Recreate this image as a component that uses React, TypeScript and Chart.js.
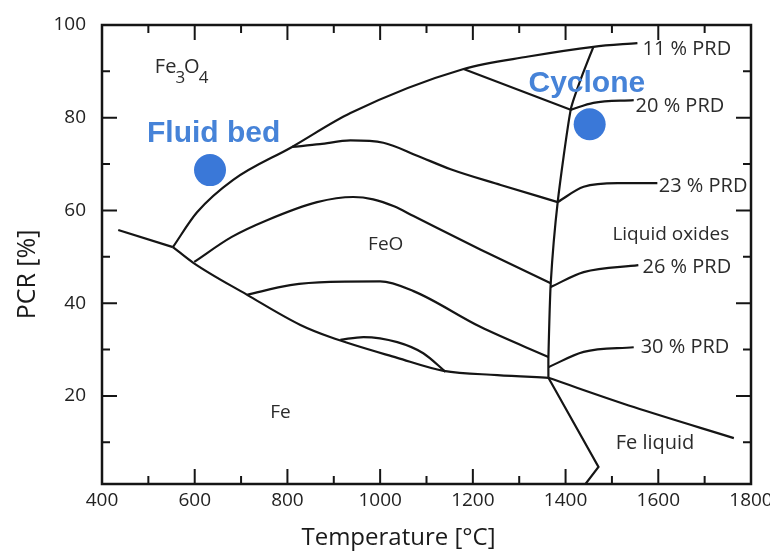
import React, { useEffect, useRef } from 'react';
import { Chart, registerables } from 'chart.js';

Chart.register(...registerables);

// ---- axes ----
const xTickValues = [400, 600, 800, 1000, 1200, 1400, 1600, 1800];
const yTickValues = [20, 40, 60, 80, 100];
const xTitle = 'Temperature [°C]';
const yTitle = 'PCR [%]';

// ---- phase boundary curves (Temperature °C, PCR %) ----
const leftExtX = [435, 553];
const leftExtY = [55.8, 52.1];

const lowerBoundaryX = [553, 597, 713, 828, 892, 1037, 1137, 1253, 1363];
const lowerBoundaryY = [52.1, 48.7, 41.8, 35.3, 32.7, 28.2, 25.4, 24.5, 23.9];

const upperBoundaryX = [553, 605, 683, 810, 936, 1180, 1320, 1460, 1555];
const upperBoundaryY = [52.1, 59.6, 66.6, 73.7, 81.0, 90.5, 93.2, 95.3, 96.1];

const lineAX = [810, 870, 936, 1007, 1080, 1152, 1260, 1383];
const lineAY = [73.7, 74.3, 75.1, 74.6, 71.8, 68.9, 65.5, 61.8];

const lineBX = [599, 680, 756, 864, 942, 985, 1030, 1072, 1216, 1368];
const lineBY = [48.9, 54.3, 57.9, 61.8, 62.9, 62.4, 60.9, 58.8, 51.6, 44.3];

const lineCX = [713, 806, 892, 1000, 1072, 1216, 1363];
const lineCY = [41.8, 43.9, 44.6, 44.7, 42.6, 34.9, 28.4];

const lensX = [914, 964, 1037, 1093, 1141];
const lensY = [32.1, 32.7, 31.6, 29.2, 25.2];

const liquidusX = [1460, 1432, 1411, 1383, 1368, 1363, 1363];
const liquidusY = [95.3, 88.1, 81.7, 61.8, 44.3, 28.4, 23.9];

const lineEX = [1180, 1411];
const lineEY = [90.5, 81.7];

const prd20X = [1411, 1460, 1547];
const prd20Y = [81.7, 83.2, 83.8];

const prd23X = [1383, 1439, 1512, 1598];
const prd23Y = [61.8, 65.1, 65.9, 65.9];

const prd26X = [1368, 1439, 1557];
const prd26Y = [43.5, 46.7, 48.2];

const prd30X = [1363, 1439, 1547];
const prd30Y = [26.2, 29.5, 30.5];

const feLiquidX = [1363, 1547, 1763];
const feLiquidY = [23.9, 17.6, 10.9];

const lowerBranchX = [1363, 1471, 1443];
const lowerBranchY = [23.9, 4.7, 1];

// ---- operating points ----
const processNames = ['Fluid bed', 'Cyclone'];
const processX = [633, 1452];
const processY = [68.7, 78.6];
const processLabelX = [497, 1320];
const processLabelY = [74.8, 85.5];

// ---- region labels ----
const regionTexts = ['FeO', 'Fe', 'Liquid oxides', 'Fe liquid'];
const regionX = [974, 763, 1501, 1508];
const regionY = [51.5, 15.2, 53.6, 8.5];

const prdTexts = ['11 % PRD', '20 % PRD', '23 % PRD', '26 % PRD', '30 % PRD'];
const prdX = [1566, 1551, 1601, 1566, 1562];
const prdY = [93.5, 81.2, 64.0, 46.5, 29.2];

const fe3o4X = 514;
const fe3o4Y = 89.6;

// [x, y, tension, monotone]
const curves: Array<[number[], number[], number, boolean]> = [
  [leftExtX, leftExtY, 0, false],
  [lowerBoundaryX, lowerBoundaryY, 0, true],
  [upperBoundaryX, upperBoundaryY, 0, true],
  [lineAX, lineAY, 0, true],
  [lineBX, lineBY, 0, true],
  [lineCX, lineCY, 0, true],
  [lensX, lensY, 0, true],
  [liquidusX, liquidusY, 0.2, false],
  [lineEX, lineEY, 0, false],
  [prd20X, prd20Y, 0, true],
  [prd23X, prd23Y, 0, true],
  [prd26X, prd26Y, 0, true],
  [prd30X, prd30Y, 0, true],
  [feLiquidX, feLiquidY, 0, true],
  [lowerBranchX, lowerBranchY, 0, false],
];

const FONT = '"Open Sans", "DejaVu Sans", sans-serif';
const TEXT_COLOR = '#2b2b2b';
const LINE_COLOR = '#151515';
const BLUE = '#3a78d8';
const BLUE_TEXT = '#4683d8';

const framePlugin = {
  id: 'frameAndText',
  afterDatasetsDraw(chart: any) {
    const { ctx, chartArea, scales } = chart;
    const xs = scales.x;
    const ys = scales.y;
    const { left, right, top, bottom } = chartArea;
    ctx.save();
    // ticks (inward) on all four sides
    ctx.strokeStyle = LINE_COLOR;
    ctx.lineWidth = 2;
    for (let v = 500; v < 1800; v += 100) {
      const px = xs.getPixelForValue(v);
      const len = v % 200 === 0 ? 15 : 8;
      ctx.beginPath();
      ctx.moveTo(px, bottom);
      ctx.lineTo(px, bottom - len);
      ctx.moveTo(px, top);
      ctx.lineTo(px, top + len);
      ctx.stroke();
    }
    for (let v = 10; v < 100; v += 10) {
      const py = ys.getPixelForValue(v);
      const len = v % 20 === 0 ? 15 : 8;
      ctx.beginPath();
      ctx.moveTo(left, py);
      ctx.lineTo(left + len, py);
      ctx.moveTo(right, py);
      ctx.lineTo(right - len, py);
      ctx.stroke();
    }
    // frame
    ctx.lineWidth = 2.5;
    ctx.strokeRect(left, top, right - left, bottom - top);

    // axis titles
    ctx.fillStyle = '#1a1a1a';
    ctx.textAlign = 'center';
    ctx.textBaseline = 'middle';
    ctx.font = `24px ${FONT}`;
    ctx.fillText(xTitle, (left + right) / 2 - 28, 538);
    ctx.save();
    ctx.translate(28, (top + bottom) / 2 + 20);
    ctx.rotate(-Math.PI / 2);
    ctx.font = `25px ${FONT}`;
    ctx.fillText(yTitle, 0, 0);
    ctx.restore();

    // region labels
    ctx.fillStyle = TEXT_COLOR;
    ctx.textAlign = 'left';
    ctx.textBaseline = 'alphabetic';
    regionTexts.forEach((t, i) => {
      ctx.font = t === 'Fe liquid' ? `20px ${FONT}` : `19px ${FONT}`;
      ctx.fillText(t, xs.getPixelForValue(regionX[i]), ys.getPixelForValue(regionY[i]));
    });
    ctx.font = `20px ${FONT}`;
    prdTexts.forEach((t, i) => {
      ctx.fillText(t, xs.getPixelForValue(prdX[i]), ys.getPixelForValue(prdY[i]));
    });

    // Fe3O4 with subscripts
    let fx = xs.getPixelForValue(fe3o4X);
    const fy = ys.getPixelForValue(fe3o4Y);
    const parts: Array<[string, boolean]> = [['Fe', false], ['3', true], ['O', false], ['4', true]];
    parts.forEach(([s, sub]) => {
      ctx.font = sub ? `17px ${FONT}` : `20px ${FONT}`;
      ctx.fillText(s, fx, sub ? fy + 10 : fy);
      fx += ctx.measureText(s).width - (sub ? 1 : 1);
    });

    // process labels
    ctx.fillStyle = BLUE_TEXT;
    ctx.font = `bold 30px "Liberation Sans", Arial, sans-serif`;
    processNames.forEach((t, i) => {
      ctx.fillText(t, xs.getPixelForValue(processLabelX[i]), ys.getPixelForValue(processLabelY[i]));
    });
    ctx.restore();
  },
};

export default function App() {
  const canvasRef = useRef<HTMLCanvasElement | null>(null);

  useEffect(() => {
    if (!canvasRef.current) return;
    const datasets: any[] = curves.map(([xs, ys, tension, mono]) => ({
      data: xs.map((x, i) => ({ x, y: ys[i] })),
      showLine: true,
      borderColor: LINE_COLOR,
      borderWidth: 2.2,
      pointRadius: 0,
      tension: mono ? 0.4 : tension,
      cubicInterpolationMode: mono ? 'monotone' : 'default',
      fill: false,
    }));
    datasets.push({
      data: processX.map((x, i) => ({ x, y: processY[i] })),
      showLine: false,
      pointRadius: 16,
      pointHoverRadius: 16,
      backgroundColor: BLUE,
      borderWidth: 0,
    });

    const chart = new Chart(canvasRef.current, {
      type: 'scatter',
      data: { datasets },
      options: {
        responsive: false,
        animation: false,
        events: [],
        layout: { padding: { left: 0, top: 25, right: 19, bottom: 0 } },
        plugins: { legend: { display: false }, tooltip: { enabled: false } },
        scales: {
          x: {
            type: 'linear',
            min: 400,
            max: 1800,
            afterBuildTicks: (scale: any) => {
              scale.ticks = xTickValues.map((v) => ({ value: v }));
            },
            afterFit: (scale: any) => {
              scale.height = 68;
              scale.paddingLeft = 0;
              scale.paddingRight = 0;
            },
            grid: { display: false, drawTicks: false },
            border: { display: false },
            ticks: {
              padding: 5,
              color: '#222',
              font: { family: FONT, size: 19 },
              maxRotation: 0,
              autoSkip: false,
              callback: (v: any) => String(v),
            },
          },
          y: {
            type: 'linear',
            min: 1,
            max: 100,
            afterBuildTicks: (scale: any) => {
              scale.ticks = yTickValues.map((v) => ({ value: v }));
            },
            afterFit: (scale: any) => {
              scale.width = 102;
              scale.paddingTop = 0;
              scale.paddingBottom = 0;
            },
            grid: { display: false, drawTicks: false },
            border: { display: false },
            ticks: {
              padding: 16,
              color: '#222',
              font: { family: FONT, size: 19 },
              autoSkip: false,
              callback: (v: any) => String(v),
            },
          },
        },
      },
      plugins: [framePlugin],
    } as any);
    return () => chart.destroy();
  }, []);

  return (
    <div style={{ position: 'absolute', left: 0, top: 0, width: 770, height: 552, background: '#fff' }}>
      <canvas ref={canvasRef} width={770} height={552} style={{ display: 'block' }} />
    </div>
  );
}
